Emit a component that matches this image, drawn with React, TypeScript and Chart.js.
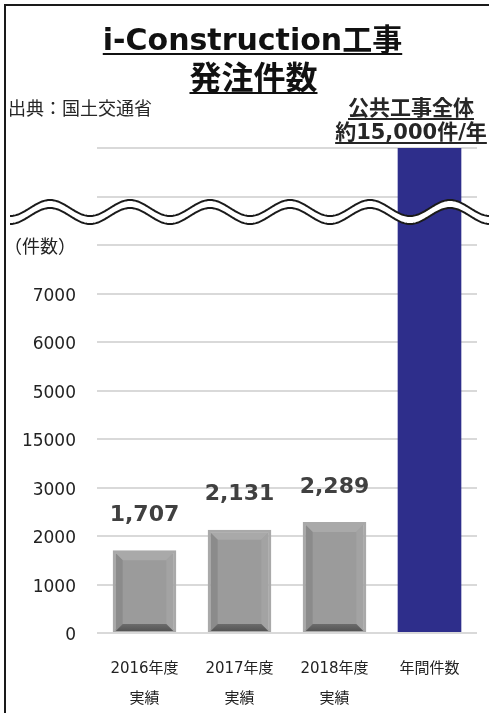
import React, { useEffect, useRef } from "react";
import { Chart, registerables } from "chart.js";

Chart.register(...registerables);

const categories: (string | string[])[] = [
  ["2016年度", "実績"],
  ["2017年度", "実績"],
  ["2018年度", "実績"],
  "年間件数",
];
const orderValues = [1707, 2131, 2289, 15000];
const valueLabels = ["1,707", "2,131", "2,289", ""];
const yTickLabels = ["0", "1000", "2000", "3000", "15000", "5000", "6000", "7000", "（件数）", "", ""];
const barColors = ["#9b9b9b", "#9b9b9b", "#9b9b9b", "#2e2e8b"];

const FONT = "'DejaVu Sans', 'Noto Sans CJK JP', sans-serif";

const decorPlugin = {
  id: "decor",
  afterDatasetsDraw(chart: any) {
    const ctx = chart.ctx as CanvasRenderingContext2D;
    const meta = chart.getDatasetMeta(0);
    const area = chart.chartArea;
    meta.data.forEach((bar: any, i: number) => {
      if (i > 2) return;
      const { x, y, base, width } = bar.getProps(["x", "y", "base", "width"], true);
      const l = x - width / 2 + 3;
      const r = x + width / 2 - 3;
      const t = y + 3;
      const b = base - 1;
      const bv = 7;
      const poly = (pts: number[][], color: any) => {
        ctx.beginPath();
        ctx.moveTo(pts[0][0], pts[0][1]);
        for (let k = 1; k < pts.length; k++) ctx.lineTo(pts[k][0], pts[k][1]);
        ctx.closePath();
        ctx.fillStyle = color;
        ctx.fill();
      };
      ctx.save();
      poly([[l, t], [r, t], [r - bv, t + bv], [l + bv, t + bv]], "#a9a9a9");
      poly([[l, t], [l + bv, t + bv], [l + bv, b - bv], [l, b]], "#8b8b8b");
      poly([[r, t], [r, b], [r - bv, b - bv], [r - bv, t + bv]], "#a3a3a3");
      const g = ctx.createLinearGradient(0, b - bv, 0, b);
      g.addColorStop(0, "#6c6c6c");
      g.addColorStop(1, "#555555");
      poly([[l, b], [l + bv, b - bv], [r - bv, b - bv], [r, b]], g);
      ctx.restore();
      ctx.save();
      ctx.font = `bold 22px ${FONT}`;
      ctx.fillStyle = "#404040";
      ctx.textAlign = "center";
      ctx.textBaseline = "middle";
      ctx.fillText(valueLabels[i], x, y - 35);
      ctx.restore();
    });
    // axis-break wave
    const x0 = 10;
    const x1 = chart.width;
    const period = 80;
    const peak = 50;
    const amp = 8;
    const c1 = area.top + 60;
    const c2 = c1 + 8;
    const wy = (xx: number, c: number) => c - amp * Math.cos((2 * Math.PI * (xx - peak)) / period);
    ctx.save();
    ctx.beginPath();
    for (let xx = x0; xx <= x1; xx += 1) {
      const yy = wy(xx, c1);
      if (xx === x0) ctx.moveTo(xx, yy);
      else ctx.lineTo(xx, yy);
    }
    for (let xx = x1; xx >= x0; xx -= 1) ctx.lineTo(xx, wy(xx, c2));
    ctx.closePath();
    ctx.fillStyle = "#ffffff";
    ctx.fill();
    ctx.lineWidth = 2;
    ctx.strokeStyle = "#1a1a1a";
    [c1, c2].forEach((c) => {
      ctx.beginPath();
      for (let xx = x0; xx <= x1; xx += 1) {
        const yy = wy(xx, c);
        if (xx === x0) ctx.moveTo(xx, yy);
        else ctx.lineTo(xx, yy);
      }
      ctx.stroke();
    });
    ctx.restore();
  },
};

export default function App() {
  const ref = useRef<HTMLCanvasElement>(null);
  useEffect(() => {
    if (!ref.current) return;
    const chart = new Chart(ref.current, {
      type: "bar",
      data: {
        labels: categories,
        datasets: [
          {
            data: orderValues,
            backgroundColor: barColors,
            borderColor: ["#a9a9a9", "#a9a9a9", "#a9a9a9", "#2e2e8b"],
            borderWidth: [3, 3, 3, 0],
            borderSkipped: false,
            categoryPercentage: 1,
            barPercentage: 0.67,
            clip: 0,
          } as any,
        ],
      },
      options: {
        animation: false,
        responsive: false,
        layout: { padding: { left: 0, right: 12, top: 148, bottom: 0 } },
        plugins: { legend: { display: false }, tooltip: { enabled: false }, title: { display: false } },
        scales: {
          x: {
            grid: { display: false },
            border: { display: false },
            ticks: {
              font: { family: FONT, size: 15, lineHeight: 2 },
              color: "#222222",
              padding: 13,
              maxRotation: 0,
              autoSkip: false,
            },
            afterFit: (s: any) => {
              s.height = 80;
            },
          },
          y: {
            min: 0,
            max: 10000,
            grid: { color: "#d9d9d9", lineWidth: 2, drawTicks: false },
            border: { display: false },
            ticks: {
              stepSize: 1000,
              autoSkip: false,
              padding: 21,
              labelOffset: 3,
              color: "#222222",
              font: (c: any) => ({ family: FONT, size: c.index === 8 ? 18 : 17 }),
              callback: (_v: any, i: number) => yTickLabels[i],
            },
            afterFit: (s: any) => {
              s.width = 97;
            },
          },
        },
      },
      plugins: [decorPlugin],
    });
    return () => chart.destroy();
  }, []);

  const base: React.CSSProperties = {
    position: "absolute",
    whiteSpace: "nowrap",
    fontFamily: FONT,
    color: "#111",
    margin: 0,
  };

  return (
    <div style={{ position: "absolute", left: 0, top: 0, width: 489, height: 713, background: "#fff", overflow: "hidden" }}>
      <canvas ref={ref} width={489} height={713} style={{ display: "block", position: "absolute", left: 0, top: 0 }} />
      <div style={{ position: "absolute", left: 4, top: 4, width: 500, height: 720, borderLeft: "2px solid #1a1a1a", borderTop: "2px solid #1a1a1a" }} />
      <div
        style={{
          ...base,
          left: 0,
          width: 505,
          top: 22,
          textAlign: "center",
          fontWeight: "bold",
          fontSize: 30,
          lineHeight: "35px",
          textDecoration: "underline",
          textDecorationThickness: "2px",
          textUnderlineOffset: "3px",
        }}
      >
        i-Construction工事
      </div>
      <div
        style={{
          ...base,
          left: 0,
          width: 507,
          top: 60,
          textAlign: "center",
          fontWeight: "bold",
          fontSize: 32,
          lineHeight: "37px",
          textDecoration: "underline",
          textDecorationThickness: "2px",
          textUnderlineOffset: "3px",
        }}
      >
        発注件数
      </div>
      <div style={{ ...base, left: 8, top: 98, fontSize: 18, lineHeight: "22px", color: "#262626" }}>出典：国土交通省</div>
      <div
        style={{
          ...base,
          left: 311,
          width: 200,
          top: 96,
          textAlign: "center",
          fontWeight: "bold",
          fontSize: 21,
          lineHeight: "24px",
          color: "#262626",
          textDecoration: "underline",
          textDecorationThickness: "2px",
          textUnderlineOffset: "3px",
        }}
      >
        公共工事全体
      </div>
      <div
        style={{
          ...base,
          left: 311,
          width: 200,
          top: 120,
          textAlign: "center",
          fontWeight: "bold",
          fontSize: 21,
          lineHeight: "24px",
          color: "#262626",
          textDecoration: "underline",
          textDecorationThickness: "2px",
          textUnderlineOffset: "3px",
        }}
      >
        約15,000件/年
      </div>
    </div>
  );
}
